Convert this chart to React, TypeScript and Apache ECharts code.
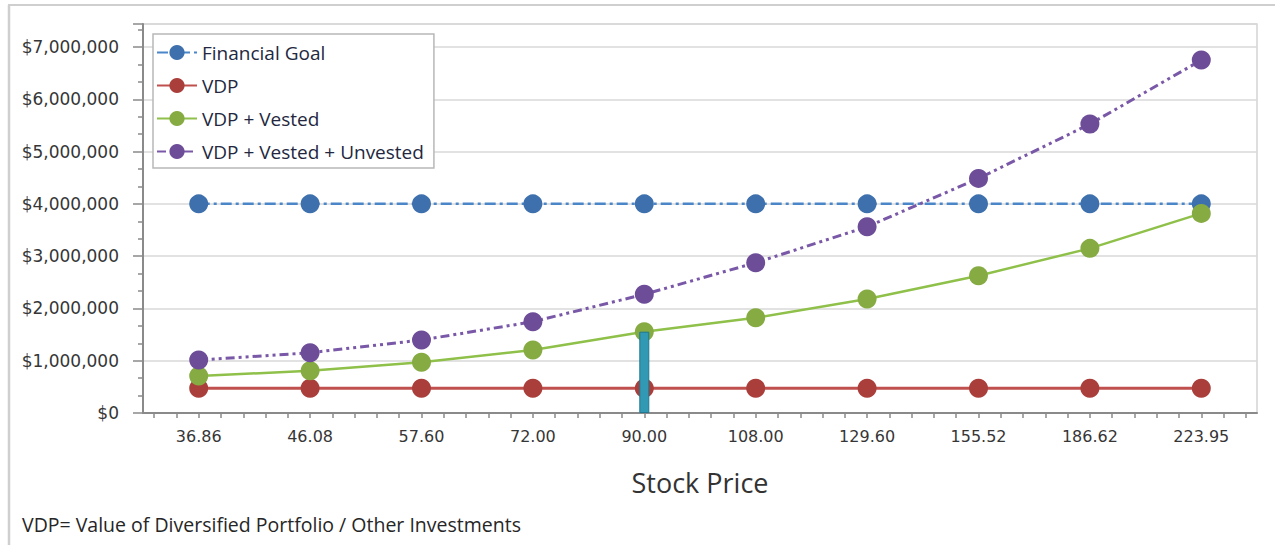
import React, { useEffect, useRef } from "react";
import * as echarts from "echarts";

const stockPrices = ["36.86", "46.08", "57.60", "72.00", "90.00", "108.00", "129.60", "155.52", "186.62", "223.95"];
const financialGoal = [4000000, 4000000, 4000000, 4000000, 4000000, 4000000, 4000000, 4000000, 4000000, 4000000];
const vdp = [475000, 475000, 475000, 475000, 475000, 475000, 475000, 475000, 475000, 475000];
const vdpVested = [707000, 809000, 969000, 1205000, 1555000, 1822000, 2180000, 2625000, 3149000, 3818000];
const vdpVestedUnvested = [1013000, 1153000, 1396000, 1746000, 2270000, 2874000, 3562000, 4487000, 5526000, 6750000];
const currentPriceIndex = 4;
const yTickValues = [0, 1000000, 2000000, 3000000, 4000000, 5000000, 6000000, 7000000];
const footnote = "VDP= Value of Diversified Portfolio / Other Investments";

const W = 1275;
const H = 545;
const plotLeft = 143;
const plotRight = 1257;
const plotTop = 24;
const plotBottom = 413;
const catW = (plotRight - plotLeft) / stockPrices.length;

function fmtMoney(v: number) {
  return "$" + Math.round(v).toLocaleString("en-US");
}

export default function App() {
  const ref = useRef<HTMLDivElement>(null);
  useEffect(() => {
    document.body.style.margin = "0";
    const chart = echarts.init(ref.current!, null, { renderer: "svg" });
    const currentBar = stockPrices.map((_, i) => (i === currentPriceIndex ? vdpVested[i] : null));
    const mkLine = (name: string, data: number[], mColor: string, lColor: string, width: number, dash: any) => ({
      name,
      type: "line",
      data,
      symbol: "circle",
      symbolSize: 19,
      itemStyle: { color: mColor },
      lineStyle: { color: lColor, width, type: dash },
      z: 3,
    });
    chart.setOption({
      animation: false,
      backgroundColor: "#ffffff",
      textStyle: { fontFamily: "Open Sans" },
      grid: [
        {
          left: plotLeft,
          right: W - plotRight,
          top: plotTop,
          bottom: H - plotBottom,
          show: true,
          borderColor: "#d4d4d4",
          borderWidth: 1.5,
          backgroundColor: "transparent",
        },
        {
          left: plotLeft + 0.1 * catW,
          right: W - (plotLeft + 9.9 * catW),
          top: plotTop,
          bottom: H - plotBottom,
          show: false,
        },
      ],
      legend: {
        orient: "vertical",
        left: 153,
        top: 34,
        data: ["Financial Goal", "VDP", "VDP + Vested", "VDP + Vested + Unvested"],
        itemWidth: 40,
        itemHeight: 19,
        itemGap: 14,
        padding: [9, 10, 7, 3],
        backgroundColor: "#ffffff",
        borderColor: "#b8b8b8",
        borderWidth: 1.5,
        borderRadius: 0,
        textStyle: { fontFamily: "Open Sans", fontSize: 19, color: "#232840" },
      },
      xAxis: [
        {
          type: "category",
          gridIndex: 0,
          data: stockPrices,
          boundaryGap: true,
          name: "Stock Price",
          nameLocation: "middle",
          nameGap: 56,
          nameTextStyle: { fontFamily: "Open Sans", fontSize: 27, color: "#333333" },
          axisLine: { lineStyle: { color: "#8a8a8a", width: 2 } },
          axisTick: { alignWithLabel: true, length: 10, lineStyle: { color: "#8a8a8a", width: 1.5 } },
          axisLabel: { fontFamily: "DejaVu Sans", fontSize: 16, color: "#363636", margin: 15 },
          splitLine: { show: false },
        },
        {
          type: "value",
          gridIndex: 1,
          min: 0,
          max: 49,
          interval: 1,
          axisLine: { show: false },
          axisTick: { show: true, length: 5, lineStyle: { color: "#8a8a8a", width: 1.5 } },
          axisLabel: { show: false },
          splitLine: { show: false },
        },
      ],
      yAxis: [
        {
          type: "value",
          gridIndex: 0,
          min: 0,
          max: 7440000,
          interval: yTickValues[1] - yTickValues[0],
          axisLine: { show: true, lineStyle: { color: "#8a8a8a", width: 2 } },
          axisTick: { show: true, length: 10, lineStyle: { color: "#8a8a8a", width: 1.5 } },
          minorTick: { show: true, splitNumber: 3, length: 5, lineStyle: { color: "#8a8a8a", width: 1.5 } },
          axisLabel: {
            fontFamily: "DejaVu Sans",
            fontSize: 17,
            color: "#363636",
            margin: 24,
            showMaxLabel: false,
            formatter: (v: number) => (yTickValues.indexOf(v) >= 0 ? fmtMoney(v) : ""),
          },
          splitLine: { show: true, lineStyle: { color: "#d8d8d8", width: 1.5 } },
        },
        {
          type: "value",
          gridIndex: 1,
          show: false,
          min: 0,
          max: 1,
        },
      ],
      series: [
        mkLine("Financial Goal", financialGoal, "#3d70ad", "#4a86c8", 2.5, [11, 4, 3, 4]),
        mkLine("VDP", vdp, "#a93e3a", "#c0504d", 3, "solid"),
        mkLine("VDP + Vested", vdpVested, "#85ab42", "#8fc04a", 2.5, "solid"),
        mkLine("VDP + Vested + Unvested", vdpVestedUnvested, "#6d4c98", "#7a58a8", 3, [9, 4, 3, 4, 3, 4]),
        {
          name: "Current Price",
          type: "bar",
          data: currentBar,
          barWidth: 10,
          barGap: "-100%",
          itemStyle: { color: "#3299b5", borderColor: "#1f7890", borderWidth: 1 },
          z: 5,
        },
      ],
      graphic: [
        { type: "line", shape: { x1: 8, y1: 5, x2: W, y2: 5 }, style: { stroke: "#cfcfcf", lineWidth: 2 } },
        { type: "line", shape: { x1: 9, y1: 5, x2: 9, y2: H }, style: { stroke: "#cfcfcf", lineWidth: 2.5 } },
        {
          type: "text",
          left: 22,
          top: 514,
          style: { text: footnote, font: "19.5px 'Open Sans'", fill: "#262626" },
        },
      ],
    });
    return () => chart.dispose();
  }, []);
  return <div ref={ref} style={{ width: W, height: H }} />;
}
